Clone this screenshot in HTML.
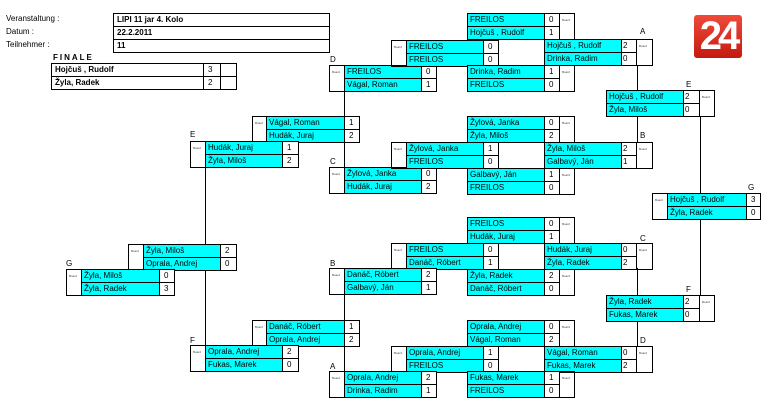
<!DOCTYPE html>
<html><head><meta charset="utf-8"><style>
body{margin:0;width:772px;height:408px;background:#fff;position:relative;overflow:hidden;font-family:"Liberation Sans",Arial,sans-serif;font-size:8px;color:#000}
div{position:absolute;box-sizing:border-box}
.n{background:#00ffff;border:1px solid #000;height:14px;line-height:12px;padding-left:2px;white-space:nowrap;overflow:hidden}
.s{background:#fff;border:1px solid #000;height:14px;line-height:12px;padding-left:4px}
.b{border:1px solid #000;height:27px;font-size:3px;line-height:12px;padding-left:2px;color:#444}
.w{background:#fff;border:1px solid #000;height:14px}
.l{font-size:8px}
.v{width:1px;background:#000}
.h{border:1px solid #000;height:14px;line-height:12px;padding-left:3px;font-weight:bold}
</style></head><body>
<div class="l" style="left:6px;top:14px">Veranstaltung :</div>
<div class="l" style="left:6px;top:27px">Datum :</div>
<div class="l" style="left:6px;top:40px">Teilnehmer :</div>
<div class="h" style="left:113px;top:13px;width:217px">LIPI 11 jar 4. Kolo</div>
<div class="h" style="left:113px;top:26px;width:217px">22.2.2011</div>
<div class="h" style="left:113px;top:39px;width:217px">11</div>
<div class="l" style="left:53px;top:53px;font-weight:bold;letter-spacing:2px">FINALE</div>
<div class="h" style="left:51px;top:63px;width:153px">Hojčuš , Rudolf</div>
<div class="h" style="left:51px;top:76px;width:153px">Žyla, Radek</div>
<div class="s" style="left:203px;top:63px;width:18px">3</div>
<div class="s" style="left:203px;top:76px;width:18px">2</div>
<div class="w" style="left:220px;top:63px;width:17px"></div>
<div class="w" style="left:220px;top:76px;width:17px"></div>

<div style="left:694px;top:15px;width:48px;height:43px;background:linear-gradient(#f04a3a,#c41a10);border-radius:3px;color:#fff;font-size:40px;font-weight:bold;line-height:43px;text-align:center;letter-spacing:-4px">24</div>

<!-- lines -->
<div class="v" style="left:205px;top:166px;height:78px"></div>
<div class="v" style="left:205px;top:269px;height:77px"></div>
<div class="v" style="left:344px;top:91px;height:26px"></div>
<div class="v" style="left:344px;top:142px;height:26px"></div>
<div class="v" style="left:344px;top:294px;height:27px"></div>
<div class="v" style="left:344px;top:346px;height:26px"></div>
<div class="v" style="left:637px;top:65px;height:26px"></div>
<div class="v" style="left:637px;top:116px;height:27px"></div>
<div class="v" style="left:637px;top:268px;height:28px"></div>
<div class="v" style="left:637px;top:320px;height:26px"></div>
<div class="v" style="left:700px;top:116px;height:78px"></div>
<div class="v" style="left:700px;top:219px;height:77px"></div>

<!-- labels -->
<div class="l" style="left:330px;top:55px">D</div>
<div class="l" style="left:190px;top:130px">E</div>
<div class="l" style="left:330px;top:157px">C</div>
<div class="l" style="left:640px;top:27px">A</div>
<div class="l" style="left:686px;top:80px">E</div>
<div class="l" style="left:640px;top:131px">B</div>
<div class="l" style="left:748px;top:183px">G</div>
<div class="l" style="left:66px;top:259px">G</div>
<div class="l" style="left:330px;top:259px">B</div>
<div class="l" style="left:640px;top:234px">C</div>
<div class="l" style="left:686px;top:285px">F</div>
<div class="l" style="left:190px;top:336px">F</div>
<div class="l" style="left:640px;top:336px">D</div>
<div class="l" style="left:330px;top:362px">A</div>

<!-- left-board matches -->
<!-- D -->
<div class="b" style="left:329px;top:65px;width:16px">Board</div>
<div class="n" style="left:344px;top:65px;width:78px">FREILOS</div><div class="s" style="left:421px;top:65px;width:16px">0</div>
<div class="n" style="left:344px;top:78px;width:78px">Vágal, Roman</div><div class="s" style="left:421px;top:78px;width:16px">1</div>
<!-- C -->
<div class="b" style="left:329px;top:167px;width:16px">Board</div>
<div class="n" style="left:344px;top:167px;width:78px">Žylová, Janka</div><div class="s" style="left:421px;top:167px;width:16px">0</div>
<div class="n" style="left:344px;top:180px;width:78px">Hudák, Juraj</div><div class="s" style="left:421px;top:180px;width:16px">2</div>
<!-- Vagal/Hudak -->
<div class="b" style="left:252px;top:116px;width:15px">Board</div>
<div class="n" style="left:266px;top:116px;width:79px">Vágal, Roman</div><div class="s" style="left:344px;top:116px;width:16px">1</div>
<div class="n" style="left:266px;top:129px;width:79px">Hudák, Juraj</div><div class="s" style="left:344px;top:129px;width:16px">2</div>
<!-- E left -->
<div class="b" style="left:190px;top:141px;width:16px">Board</div>
<div class="n" style="left:205px;top:141px;width:78px">Hudák, Juraj</div><div class="s" style="left:282px;top:141px;width:17px">1</div>
<div class="n" style="left:205px;top:154px;width:78px">Žyla, Miloš</div><div class="s" style="left:282px;top:154px;width:17px">2</div>
<!-- Freilos/Freilos -->
<div class="b" style="left:391px;top:40px;width:16px">Board</div>
<div class="n" style="left:406px;top:40px;width:78px">FREILOS</div><div class="s" style="left:483px;top:40px;width:16px">0</div>
<div class="n" style="left:406px;top:53px;width:78px">FREILOS</div><div class="s" style="left:483px;top:53px;width:16px">0</div>
<!-- Zylova/Freilos -->
<div class="b" style="left:391px;top:142px;width:16px">Board</div>
<div class="n" style="left:406px;top:142px;width:78px">Žylová, Janka</div><div class="s" style="left:483px;top:142px;width:16px">1</div>
<div class="n" style="left:406px;top:155px;width:78px">FREILOS</div><div class="s" style="left:483px;top:155px;width:16px">0</div>
<!-- G right -->
<div class="b" style="left:652px;top:193px;width:16px">Board</div>
<div class="n" style="left:667px;top:193px;width:80px">Hojčuš , Rudolf</div><div class="s" style="left:746px;top:193px;width:15px">3</div>
<div class="n" style="left:667px;top:206px;width:80px">Žyla, Radek</div><div class="s" style="left:746px;top:206px;width:15px">0</div>
<!-- bottom half -->
<div class="b" style="left:391px;top:243px;width:16px">Board</div>
<div class="n" style="left:406px;top:243px;width:78px">FREILOS</div><div class="s" style="left:483px;top:243px;width:16px">0</div>
<div class="n" style="left:406px;top:256px;width:78px">Danáč, Róbert</div><div class="s" style="left:483px;top:256px;width:16px">1</div>
<div class="b" style="left:329px;top:268px;width:16px">Board</div>
<div class="n" style="left:344px;top:268px;width:78px">Danáč, Róbert</div><div class="s" style="left:421px;top:268px;width:16px">2</div>
<div class="n" style="left:344px;top:281px;width:78px">Galbavý, Ján</div><div class="s" style="left:421px;top:281px;width:16px">1</div>
<div class="b" style="left:252px;top:320px;width:15px">Board</div>
<div class="n" style="left:266px;top:320px;width:79px">Danáč, Róbert</div><div class="s" style="left:344px;top:320px;width:16px">1</div>
<div class="n" style="left:266px;top:333px;width:79px">Oprala, Andrej</div><div class="s" style="left:344px;top:333px;width:16px">2</div>
<div class="b" style="left:190px;top:345px;width:16px">Board</div>
<div class="n" style="left:205px;top:345px;width:78px">Oprala, Andrej</div><div class="s" style="left:282px;top:345px;width:17px">2</div>
<div class="n" style="left:205px;top:358px;width:78px">Fukas, Marek</div><div class="s" style="left:282px;top:358px;width:17px">0</div>
<div class="b" style="left:391px;top:346px;width:16px">Board</div>
<div class="n" style="left:406px;top:346px;width:78px">Oprala, Andrej</div><div class="s" style="left:483px;top:346px;width:16px">1</div>
<div class="n" style="left:406px;top:359px;width:78px">FREILOS</div><div class="s" style="left:483px;top:359px;width:16px">0</div>
<div class="b" style="left:329px;top:371px;width:16px">Board</div>
<div class="n" style="left:344px;top:371px;width:78px">Oprala, Andrej</div><div class="s" style="left:421px;top:371px;width:16px">2</div>
<div class="n" style="left:344px;top:384px;width:78px">Drinka, Radim</div><div class="s" style="left:421px;top:384px;width:16px">1</div>
<div class="b" style="left:128px;top:244px;width:16px">Board</div>
<div class="n" style="left:143px;top:244px;width:78px">Žyla, Miloš</div><div class="s" style="left:220px;top:244px;width:17px">2</div>
<div class="n" style="left:143px;top:257px;width:78px">Oprala, Andrej</div><div class="s" style="left:220px;top:257px;width:17px">0</div>
<div class="b" style="left:66px;top:269px;width:16px">Board</div>
<div class="n" style="left:81px;top:269px;width:79px">Žyla, Miloš</div><div class="s" style="left:159px;top:269px;width:16px">0</div>
<div class="n" style="left:81px;top:282px;width:79px">Žyla, Radek</div><div class="s" style="left:159px;top:282px;width:16px">3</div>

<!-- right-board matches -->
<div class="n" style="left:467px;top:13px;width:78px">FREILOS</div><div class="s" style="left:544px;top:13px;width:16px">0</div>
<div class="n" style="left:467px;top:26px;width:78px">Hojčuš , Rudolf</div><div class="s" style="left:544px;top:26px;width:16px">1</div>
<div class="b" style="left:559px;top:13px;width:16px">Board</div>
<div class="n" style="left:467px;top:65px;width:78px">Drinka, Radim</div><div class="s" style="left:544px;top:65px;width:16px">1</div>
<div class="n" style="left:467px;top:78px;width:78px">FREILOS</div><div class="s" style="left:544px;top:78px;width:16px">0</div>
<div class="b" style="left:559px;top:65px;width:16px">Board</div>
<div class="n" style="left:544px;top:39px;width:78px">Hojčuš , Rudolf</div><div class="s" style="left:621px;top:39px;width:16px;padding-left:1px">2</div>
<div class="n" style="left:544px;top:52px;width:78px">Drinka, Radim</div><div class="s" style="left:621px;top:52px;width:16px;padding-left:1px">0</div>
<div class="b" style="left:636px;top:39px;width:17px">Board</div>
<div class="n" style="left:606px;top:90px;width:78px">Hojčuš , Rudolf</div><div class="s" style="left:683px;top:90px;width:17px;padding-left:1px">2</div>
<div class="n" style="left:606px;top:103px;width:78px">Žyla, Miloš</div><div class="s" style="left:683px;top:103px;width:17px;padding-left:1px">0</div>
<div class="b" style="left:699px;top:90px;width:16px">Board</div>
<div class="n" style="left:467px;top:116px;width:78px">Žylová, Janka</div><div class="s" style="left:544px;top:116px;width:16px">0</div>
<div class="n" style="left:467px;top:129px;width:78px">Žyla, Miloš</div><div class="s" style="left:544px;top:129px;width:16px">2</div>
<div class="b" style="left:559px;top:116px;width:16px">Board</div>
<div class="n" style="left:544px;top:142px;width:78px">Žyla, Miloš</div><div class="s" style="left:621px;top:142px;width:16px;padding-left:1px">2</div>
<div class="n" style="left:544px;top:155px;width:78px">Galbavý, Ján</div><div class="s" style="left:621px;top:155px;width:16px;padding-left:1px">1</div>
<div class="b" style="left:636px;top:142px;width:17px">Board</div>
<div class="n" style="left:467px;top:168px;width:78px">Galbavý, Ján</div><div class="s" style="left:544px;top:168px;width:16px">1</div>
<div class="n" style="left:467px;top:181px;width:78px">FREILOS</div><div class="s" style="left:544px;top:181px;width:16px">0</div>
<div class="b" style="left:559px;top:168px;width:16px">Board</div>

<div class="n" style="left:467px;top:217px;width:78px">FREILOS</div><div class="s" style="left:544px;top:217px;width:16px">0</div>
<div class="n" style="left:467px;top:230px;width:78px">Hudák, Juraj</div><div class="s" style="left:544px;top:230px;width:16px">1</div>
<div class="b" style="left:559px;top:217px;width:16px">Board</div>
<div class="n" style="left:544px;top:243px;width:78px">Hudák, Juraj</div><div class="s" style="left:621px;top:243px;width:16px;padding-left:1px">0</div>
<div class="n" style="left:544px;top:256px;width:78px">Žyla, Radek</div><div class="s" style="left:621px;top:256px;width:16px;padding-left:1px">2</div>
<div class="b" style="left:636px;top:243px;width:17px">Board</div>
<div class="n" style="left:467px;top:269px;width:78px">Žyla, Radek</div><div class="s" style="left:544px;top:269px;width:16px">2</div>
<div class="n" style="left:467px;top:282px;width:78px">Danáč, Róbert</div><div class="s" style="left:544px;top:282px;width:16px">0</div>
<div class="b" style="left:559px;top:269px;width:16px">Board</div>
<div class="n" style="left:606px;top:295px;width:78px">Žyla, Radek</div><div class="s" style="left:683px;top:295px;width:17px;padding-left:1px">2</div>
<div class="n" style="left:606px;top:308px;width:78px">Fukas, Marek</div><div class="s" style="left:683px;top:308px;width:17px;padding-left:1px">0</div>
<div class="b" style="left:699px;top:295px;width:16px">Board</div>
<div class="n" style="left:467px;top:320px;width:78px">Oprala, Andrej</div><div class="s" style="left:544px;top:320px;width:16px">0</div>
<div class="n" style="left:467px;top:333px;width:78px">Vágal, Roman</div><div class="s" style="left:544px;top:333px;width:16px">2</div>
<div class="b" style="left:559px;top:320px;width:16px">Board</div>
<div class="n" style="left:544px;top:346px;width:78px">Vágal, Roman</div><div class="s" style="left:621px;top:346px;width:16px;padding-left:1px">0</div>
<div class="n" style="left:544px;top:359px;width:78px">Fukas, Marek</div><div class="s" style="left:621px;top:359px;width:16px;padding-left:1px">2</div>
<div class="b" style="left:636px;top:346px;width:17px">Board</div>
<div class="n" style="left:467px;top:371px;width:78px">Fukas, Marek</div><div class="s" style="left:544px;top:371px;width:16px">1</div>
<div class="n" style="left:467px;top:384px;width:78px">FREILOS</div><div class="s" style="left:544px;top:384px;width:16px">0</div>
<div class="b" style="left:559px;top:371px;width:16px">Board</div>
</body></html>
